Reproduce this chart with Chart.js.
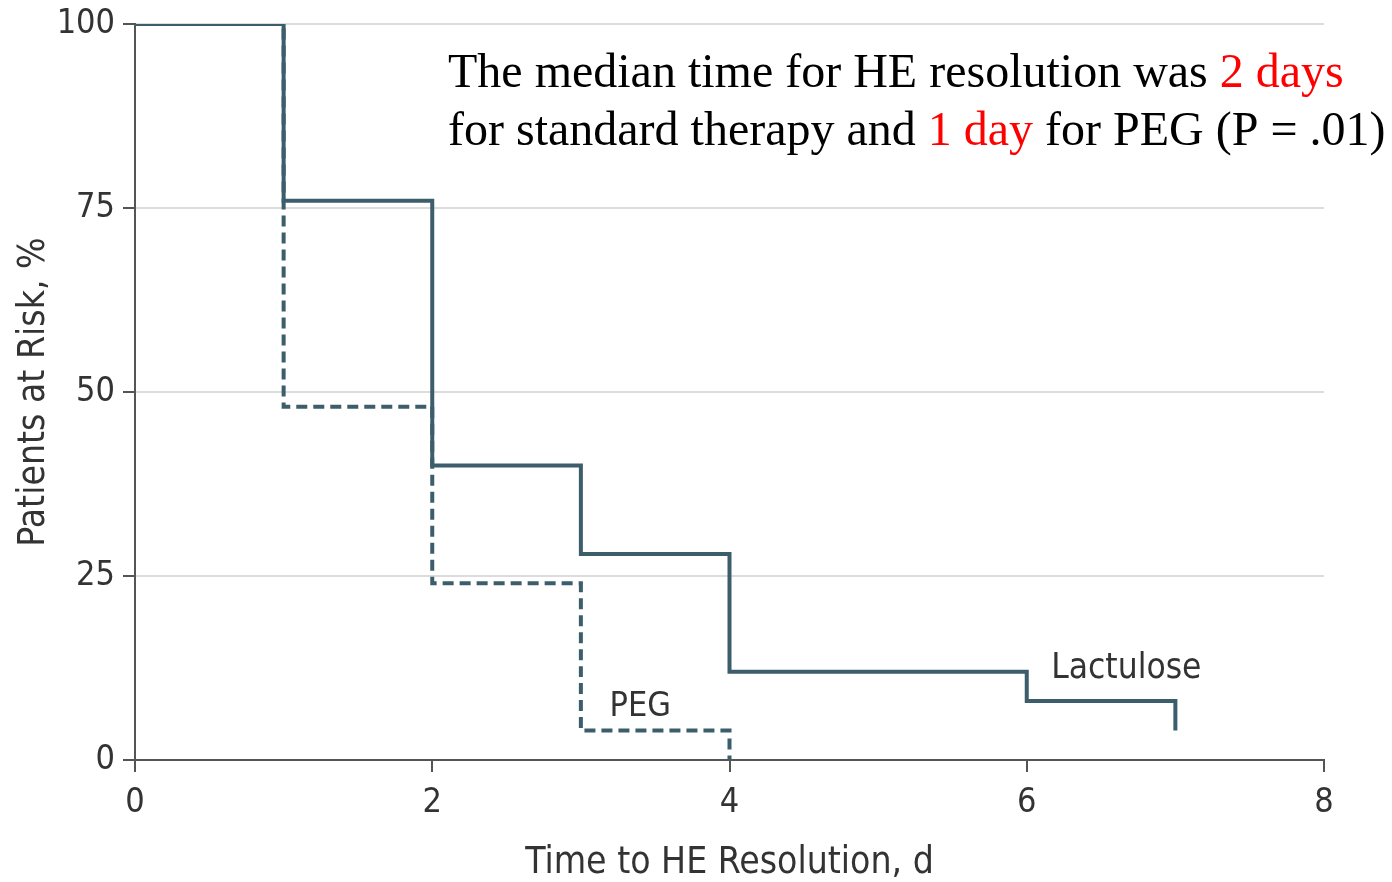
<!DOCTYPE html>
<html>
<head>
<meta charset="utf-8">
<script src="https://cdn.jsdelivr.net/npm/chart.js@4"></script>
<style>
  body { margin: 0; background: #fff; }
</style>
</head>
<body>
<canvas id="chart" width="1392" height="882"></canvas>
<script>
// time (days) and % of patients still at risk after each step
const lactuloseDays = [0, 1, 2, 3, 4, 6, 7];
const lactuloseRisk = [100, 76, 40, 28, 12, 8, 4];
const pegDays = [0, 1, 2, 3, 4];
const pegRisk = [100, 48, 24, 4, 0];

const xTicks = [0, 2, 4, 6, 8];
const yTicks = [0, 25, 50, 75, 100];

const lineColor = '#3c5d6b';
const sansFont = '"DejaVu Sans Condensed", "Liberation Sans Narrow", "DejaVu Sans", sans-serif';
const serifFont = '"Liberation Serif", "Times New Roman", serif';

const toPoints = (xs, ys) => xs.map((x, i) => ({ x: x, y: ys[i] }));

// curve labels and the note in the upper right
const labelPlugin = {
	id: 'labels',
	afterDraw(chart) {
		const { ctx, scales } = chart;
		ctx.save();
		ctx.fillStyle = '#333';
		ctx.font = '34px ' + sansFont;
		ctx.textAlign = 'center';
		ctx.textBaseline = 'middle';
		ctx.fillText('PEG', scales.x.getPixelForValue(3.4), scales.y.getPixelForValue(7.2));
		ctx.font = '35px ' + sansFont;
		ctx.fillText('Lactulose', scales.x.getPixelForValue(6.67), scales.y.getPixelForValue(12.4));

		ctx.font = '48px ' + serifFont;
		ctx.textAlign = 'left';
		ctx.textBaseline = 'alphabetic';
		const lines = [
			[['The median time for HE resolution was ', '#000'], ['2 days', '#ff0000']],
			[['for standard therapy and ', '#000'], ['1 day', '#ff0000'], [' for PEG (P = .01)', '#000']],
		];
		lines.forEach((parts, row) => {
			let x = 448;
			const y = 87 + row * 58;
			parts.forEach(([text, color]) => {
				ctx.fillStyle = color;
				ctx.fillText(text, x, y);
				x += ctx.measureText(text).width;
			});
		});
		ctx.restore();
	},
};

new Chart(document.getElementById('chart').getContext('2d'), {
	type: 'line',
	data: {
		datasets: [
			{
				label: 'Lactulose',
				data: toPoints(lactuloseDays, lactuloseRisk),
				borderColor: lineColor,
				borderWidth: 4,
				stepped: true,
				pointRadius: 0,
				fill: false,
				order: 0,
			},
			{
				label: 'PEG',
				data: toPoints(pegDays, pegRisk),
				borderColor: lineColor,
				borderWidth: 4,
				borderDash: [11, 6],
				stepped: true,
				pointRadius: 0,
				fill: false,
				order: 1,
			},
		],
	},
	options: {
		responsive: false,
		animation: false,
		layout: {
			padding: { top: 24, right: 68, left: 8, bottom: 0 },
		},
		scales: {
			x: {
				type: 'linear',
				min: 0,
				max: 8,
				afterBuildTicks: (axis) => { axis.ticks = xTicks.map((v) => ({ value: v })); },
				afterFit: (axis) => { axis.height = 122; },
				ticks: {
					color: '#333',
					font: { family: sansFont, size: 34 },
					padding: 11,
				},
				grid: {
					drawOnChartArea: false,
					tickLength: 12,
					tickColor: '#555',
					lineWidth: 2,
				},
				border: { color: '#555', width: 2 },
				title: {
					display: true,
					text: 'Time to HE Resolution, d',
					color: '#333',
					font: { family: sansFont, size: 37, lineHeight: 0.8 },
					padding: { top: 24 },
				},
			},
			y: {
				min: 0,
				max: 100,
				afterBuildTicks: (axis) => { axis.ticks = yTicks.map((v) => ({ value: v })); },
				afterFit: (axis) => {
					axis.width = 127;
					axis.paddingTop = 0;
					axis.paddingBottom = 0;
				},
				ticks: {
					color: '#333',
					font: { family: sansFont, size: 34 },
					padding: 8,
				},
				grid: {
					color: '#dcdcdc',
					lineWidth: 2,
					tickLength: 12,
					tickColor: '#555',
				},
				border: { color: '#555', width: 2 },
				title: {
					display: true,
					text: 'Patients at Risk, %',
					color: '#333',
					font: { family: sansFont, size: 37 },
					padding: { bottom: 0 },
				},
			},
		},
		plugins: {
			legend: { display: false },
			tooltip: { enabled: false },
		},
	},
	plugins: [labelPlugin],
});
</script>
</body>
</html>
